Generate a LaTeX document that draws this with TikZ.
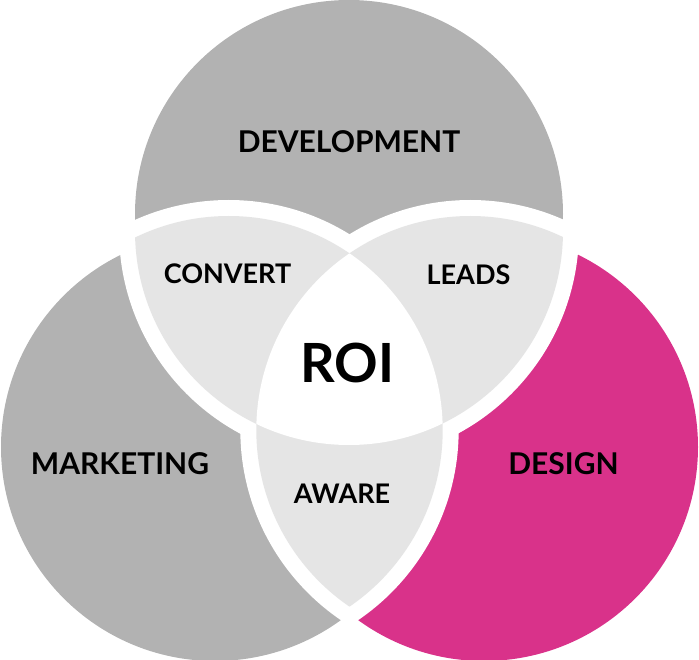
\documentclass[tikz,border=0pt]{standalone}
\usepackage{fontspec}
\setmainfont{Lato}
\definecolor{cgray}{RGB}{178,178,178}
\definecolor{clight}{RGB}{229,229,229}
\definecolor{cpink}{RGB}{217,50,138}
\begin{document}
\begin{tikzpicture}[x=1pt,y=-1pt,
  lbl/.style={inner sep=0pt, text=black},
  big/.style={font=\bfseries\fontsize{30}{36}\selectfont},
  small/.style={font=\bfseries\fontsize{27}{32}\selectfont}]
\useasboundingbox (0,0) rectangle (699,660);
% outer coloured circles
\coordinate (T) at (349,214);
\coordinate (L) at (215,447);
\coordinate (R) at (484,447);
% inner (flower) circles
\coordinate (Tp) at (349,231);
\coordinate (Lp) at (228.7,430);
\coordinate (Rp) at (470.3,430);
\fill[cgray] (T) circle[radius=214pt];
\fill[cgray] (L) circle[radius=214pt];
\fill[cpink] (R) circle[radius=214pt];
% white bands round the lenses
\foreach \a/\b in {Tp/Lp,Tp/Rp,Lp/Rp}{
  \begin{scope}
    \clip (\a) circle[radius=230pt];
    \fill[white] (\b) circle[radius=230pt];
  \end{scope}}
% light lenses
\foreach \a/\b in {Tp/Lp,Tp/Rp,Lp/Rp}{
  \begin{scope}
    \clip (\a) circle[radius=214pt];
    \fill[clight] (\b) circle[radius=214pt];
  \end{scope}}
% centre
\begin{scope}
  \clip (Tp) circle[radius=214pt];
  \clip (Lp) circle[radius=214pt];
  \fill[white] (Rp) circle[radius=214pt];
\end{scope}
% labels
\node[lbl,big] (dev) at (349,142) {DEVELOPMENT};
\node[lbl,big] (mkt) at (120,464) {MARKETING};
\node[lbl,big] (des) at (563.5,464) {DESIGN};
\node[lbl,small] (conv) at (227.5,274) {CONVERT};
\node[lbl,small] (leads) at (468.5,274.5) {LEADS};
\node[lbl,small] (aware) at (342,493.5) {AWARE};
\node[lbl,font=\bfseries\fontsize{54}{60}\selectfont] (roi) at (347.5,362.5) {ROI};
\end{tikzpicture}
\end{document}
